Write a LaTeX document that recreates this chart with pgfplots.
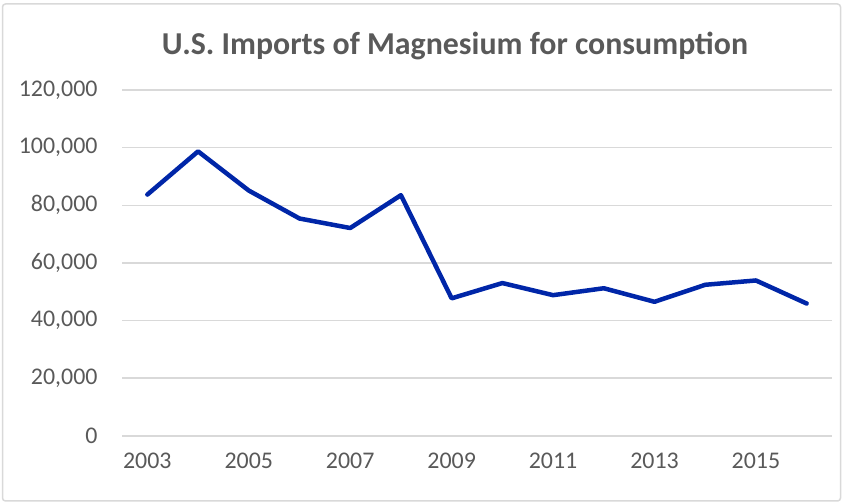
\documentclass[border=0pt]{standalone}
\usepackage{pgfplots}
\pgfplotsset{compat=1.18}
\usepackage{fontspec}
\setmainfont{Carlito}
\definecolor{txt}{HTML}{595959}
\definecolor{gridc}{HTML}{D9D9D9}
\definecolor{ser}{RGB}{0,38,168}
\begin{document}
\begin{tikzpicture}[x=1bp,y=1bp]
\useasboundingbox (0,0) rectangle (843,504);
\draw[gridc, line width=1.5bp, rounded corners=3bp] (2.5,3) rectangle (840.5,500);
\node[text=txt, font=\fontsize{32}{38}\selectfont\bfseries] at (455,458) {U.S. Imports of Magnesium for consumption};
\begin{axis}[
  at={(122bp,68.2bp)}, anchor=south west,
  scale only axis, width=710bp, height=345.8bp,
  xmin=2002.5, xmax=2016.5, ymin=0, ymax=120000,
  xtick={2003,2005,2007,2009,2011,2013,2015},
  xticklabels={2003,2005,2007,2009,2011,2013,2015},
  ytick={0,20000,40000,60000,80000,100000,120000},
  yticklabels={0,{20,000},{40,000},{60,000},{80,000},{100,000},{120,000}},
  scaled y ticks=false, scaled x ticks=false,
  axis line style={draw=none},
  major tick length=0pt,
  ymajorgrids, grid style={gridc, line width=1.5bp},
  tick label style={text=txt, font=\fontsize{24}{28}\selectfont},
  xticklabel style={yshift=-14bp},
  yticklabel style={xshift=-21bp},
  clip=false,
]
\addplot[ser, line width=4.5bp, line join=round, line cap=round] coordinates {
(2003,83700) (2004,98700) (2005,85100) (2006,75400) (2007,72100)
(2008,83500) (2009,47700) (2010,53000) (2011,48800) (2012,51200)
(2013,46500) (2014,52400) (2015,53900) (2016,45900)
};
\end{axis}
\end{tikzpicture}
\end{document}
